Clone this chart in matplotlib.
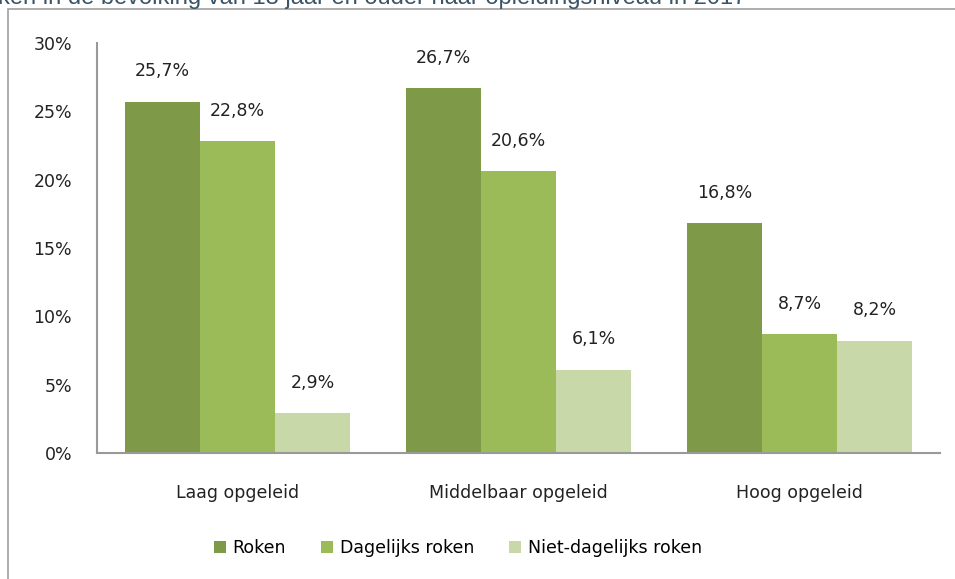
import matplotlib.pyplot as plt
import matplotlib.patches as mpatches
import numpy as np

# data
categories = ["Laag opgeleid", "Middelbaar opgeleid", "Hoog opgeleid"]
series = ["Roken", "Dagelijks roken", "Niet-dagelijks roken"]
roken = [25.7, 26.7, 16.8]
dagelijks = [22.8, 20.6, 8.7]
niet_dagelijks = [2.9, 6.1, 8.2]
colors = ["#7E9A48", "#9BBB59", "#C8D8A8"]
title = "ken in de bevolking van 18 jaar en ouder naar opleidingsniveau in 2017"

W, H = 955, 579
fig = plt.figure(figsize=(W / 100, H / 100), dpi=100)
ax = fig.add_axes([97 / W, 1 - 453 / H, (940 - 97) / W, (453 - 43) / H])

font = "DejaVu Sans"
fs = 12.5
x = np.arange(len(categories))
width = 0.267
for i, (vals, lab) in enumerate(zip([roken, dagelijks, niet_dagelijks], series)):
    pos = x + (i - 1) * width
    ax.bar(pos, vals, width, color=colors[i], label=lab, zorder=2)
    for p, v in zip(pos, vals):
        ax.annotate(("%.1f%%" % v).replace(".", ","), (p, v), xytext=(0, 22),
                    textcoords="offset points", ha="center", va="center",
                    fontsize=fs, family=font, color="#222222")

ax.set_xlim(-0.5, 2.5)
ax.set_ylim(0, 30)
ax.set_yticks(range(0, 31, 5))
ax.set_yticklabels(["%d%%" % t for t in range(0, 31, 5)], family=font, fontsize=fs, color="#222222")
ax.set_xticks(x)
ax.set_xticklabels(categories, family=font, fontsize=fs, color="#222222")
ax.tick_params(axis="both", length=0)
ax.tick_params(axis="y", pad=18)
ax.tick_params(axis="x", pad=22)
for s in ["top", "right"]:
    ax.spines[s].set_visible(False)
for s in ["left", "bottom"]:
    ax.spines[s].set_color("#999999")
    ax.spines[s].set_linewidth(1.5)

fig.legend(loc="center", bbox_to_anchor=(458 / W, 1 - 548 / H), ncol=3, frameon=False,
           prop={"family": font, "size": fs}, handlelength=0.7, handleheight=0.7,
           handletextpad=0.4, columnspacing=2.0)

# outer frame and cut-off title
fig.patches.append(mpatches.Rectangle((8 / W, -0.1), 1.2, 1 - 9 / H + 0.1, transform=fig.transFigure,
                                      fill=False, edgecolor="#A0A0A0", linewidth=1.2))
fig.text(-2 / W, 1 - 4 / H, title, ha="left", va="baseline", fontsize=17,
         family="Liberation Sans", color="#3A5566")

fig.savefig("out.png", dpi=100)
